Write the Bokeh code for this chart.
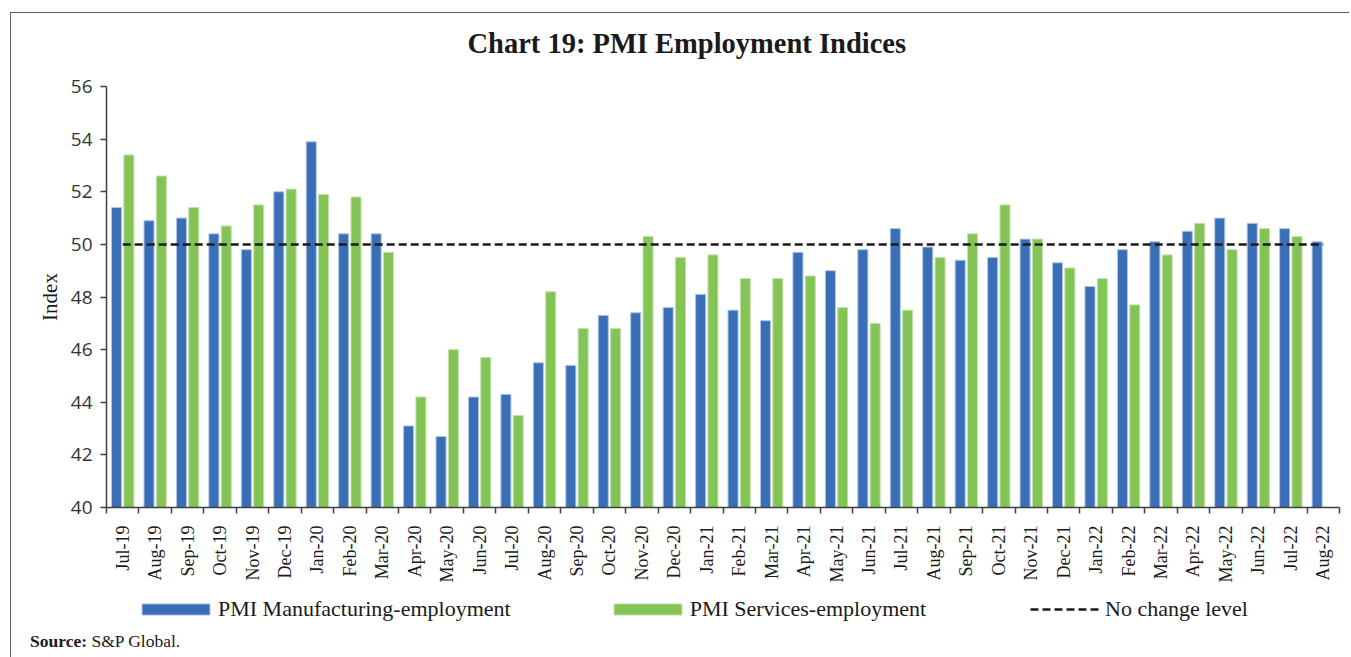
import math
from bokeh.plotting import figure
from bokeh.layouts import column
from bokeh.models import Range1d, FixedTicker, Legend, LegendItem, ColumnDataSource, Div, Label
from bokeh.transform import dodge
from bokeh.embed import file_html
from bokeh.resources import INLINE

months = ["Jul-19", "Aug-19", "Sep-19", "Oct-19", "Nov-19", "Dec-19",
          "Jan-20", "Feb-20", "Mar-20", "Apr-20", "May-20", "Jun-20",
          "Jul-20", "Aug-20", "Sep-20", "Oct-20", "Nov-20", "Dec-20",
          "Jan-21", "Feb-21", "Mar-21", "Apr-21", "May-21", "Jun-21",
          "Jul-21", "Aug-21", "Sep-21", "Oct-21", "Nov-21", "Dec-21",
          "Jan-22", "Feb-22", "Mar-22", "Apr-22", "May-22", "Jun-22",
          "Jul-22", "Aug-22"]

manufacturing = [51.4, 50.9, 51.0, 50.4, 49.8, 52.0,
                 53.9, 50.4, 50.4, 43.1, 42.7, 44.2,
                 44.3, 45.5, 45.4, 47.3, 47.4, 47.6,
                 48.1, 47.5, 47.1, 49.7, 49.0, 49.8,
                 50.6, 49.9, 49.4, 49.5, 50.2, 49.3,
                 48.4, 49.8, 50.1, 50.5, 51.0, 50.8,
                 50.6, 50.1]

# services: no value yet for Aug-22
services = [53.4, 52.6, 51.4, 50.7, 51.5, 52.1,
            51.9, 51.8, 49.7, 44.2, 46.0, 45.7,
            43.5, 48.2, 46.8, 46.8, 50.3, 49.5,
            49.6, 48.7, 48.7, 48.8, 47.6, 47.0,
            47.5, 49.5, 50.4, 51.5, 50.2, 49.1,
            48.7, 47.7, 49.6, 50.8, 49.8, 50.6,
            50.3]

no_change_level = 50
y_ticks = [40, 42, 44, 46, 48, 50, 52, 54, 56]

title_text = "Chart 19: PMI Employment Indices"
legend_labels = ["PMI Manufacturing-employment", "PMI Services-employment", "No change level"]
source_label = "Source:"
source_text = "S&amp;P Global."

BLUE = "#3A6FB7"
GREEN = "#84C457"
BLUE_EDGE = "#AFC6E6"
GREEN_EDGE = "#C4E3AC"
DARK = "#1a1a1a"
SERIF = "Liberation Serif"
W = 1338


def strip(height):
    f = figure(width=W, height=height, x_range=Range1d(0, 1), y_range=Range1d(0, 1),
               x_axis_type=None, y_axis_type=None, output_backend="svg", toolbar_location=None,
               min_border=0, min_border_left=95, min_border_right=10,
               min_border_top=0, min_border_bottom=0)
    f.outline_line_color = None
    return f


# ---------------- title strip ----------------
f0 = strip(60)
f0.add_layout(Label(x=361, y=30, x_units="screen", y_units="screen", text=title_text,
                    text_font=SERIF, text_font_style="bold", text_font_size="28.5px",
                    text_align="left", text_baseline="middle", text_color=DARK))

# ---------------- main chart ----------------
pos = list(range(len(months)))
src_m = ColumnDataSource(dict(x=pos, top=manufacturing))
src_s = ColumnDataSource(dict(x=pos[:len(services)], top=services))
src_n = ColumnDataSource(dict(x=pos, y=[no_change_level] * len(months)))

p = figure(width=W, height=512,
           x_range=Range1d(-0.5, len(months) - 0.5), y_range=Range1d(y_ticks[0], y_ticks[-1]),
           output_backend="svg", toolbar_location=None,
           min_border_left=95, min_border_right=10, min_border_top=13, min_border_bottom=78)
p.outline_line_color = None
p.xgrid.visible = False
p.ygrid.visible = False

p.vbar(x=dodge("x", -0.19), top="top", bottom=y_ticks[0], width=0.31, source=src_m,
       fill_color=BLUE, line_color=BLUE_EDGE, line_width=1)
p.vbar(x=dodge("x", 0.19), top="top", bottom=y_ticks[0], width=0.31, source=src_s,
       fill_color=GREEN, line_color=GREEN_EDGE, line_width=1)
p.line(x="x", y="y", source=src_n, line_dash="8 4", line_width=2.5, line_color=DARK)

xa = p.xaxis[0]
xa.ticker = FixedTicker(ticks=pos, minor_ticks=[i - 0.5 for i in range(len(months) + 1)])
xa.major_label_overrides = {i: m for i, m in enumerate(months)}
xa.major_label_orientation = math.pi / 2
xa.major_tick_out = 0
xa.major_tick_in = 0
xa.minor_tick_out = 6
xa.minor_tick_in = 0
xa.minor_tick_line_color = "#404040"
xa.minor_tick_line_width = 1.5
xa.axis_line_color = "#404040"
xa.axis_line_width = 1.5
xa.major_label_text_font = SERIF
xa.major_label_text_font_size = "18px"
xa.major_label_text_color = DARK
xa.major_label_standoff = 12

ya = p.yaxis[0]
ya.ticker = FixedTicker(ticks=y_ticks)
ya.minor_tick_line_color = None
ya.major_tick_out = 6
ya.major_tick_in = 0
ya.major_tick_line_color = "#404040"
ya.major_tick_line_width = 1.5
ya.axis_line_color = "#404040"
ya.axis_line_width = 1.5
ya.major_label_text_font = "Open Sans"
ya.major_label_text_font_size = "19px"
ya.major_label_text_color = "#333333"
ya.major_label_standoff = 8
ya.axis_label = "Index"
ya.axis_label_text_font = SERIF
ya.axis_label_text_font_style = "normal"
ya.axis_label_text_font_size = "21px"
ya.axis_label_text_color = DARK
ya.axis_label_standoff = 6

# ---------------- legend strip ----------------
f2 = strip(40)

# legend keys (kept outside the visible range of this strip)
k_m = f2.vbar(x=[-5], top=[-5], bottom=-6, width=0.1, fill_color=BLUE, line_color=BLUE_EDGE, line_width=1)
k_s = f2.vbar(x=[-5], top=[-5], bottom=-6, width=0.1, fill_color=GREEN, line_color=GREEN_EDGE, line_width=1)
k_n = f2.line(x=[-5, -4], y=[-5, -5], line_dash="8 4", line_width=2.5, line_color=DARK)

leg_bars = Legend(items=[LegendItem(label=legend_labels[0], renderers=[k_m]),
                         LegendItem(label=legend_labels[1], renderers=[k_s])],
                  orientation="horizontal", location=(27, 3),
                  glyph_width=85, glyph_height=14, label_standoff=0, spacing=94,
                  label_height=14,
                  label_text_font=SERIF, label_text_font_size="22px", label_text_color=DARK,
                  padding=0, margin=0, border_line_color=None, background_fill_alpha=0)
leg_line = Legend(items=[LegendItem(label=legend_labels[2], renderers=[k_n])],
                  orientation="horizontal", location=(924, 3),
                  glyph_width=70, glyph_height=14, label_standoff=5,
                  label_height=14,
                  label_text_font=SERIF, label_text_font_size="22px", label_text_color=DARK,
                  padding=0, margin=0, border_line_color=None, background_fill_alpha=0)
f2.add_layout(leg_bars)
f2.add_layout(leg_line)

source_div = Div(text=('<div style="font-family:\'Liberation Serif\'; font-size:17.5px; '
                       'line-height:22px; color:#1a1a1a; padding-left:14px; white-space:nowrap">'
                       '<b>' + source_label + '</b> ' + source_text + '</div>'),
                 width=W - 30, height=22)

layout = column(f0, p, f2, source_div, spacing=0,
                styles={"border-top": "1px solid #606060", "border-left": "1px solid #606060",
                        "margin-top": "12px", "margin-left": "10px"})

open("out.html", "w").write(file_html(layout, INLINE))
